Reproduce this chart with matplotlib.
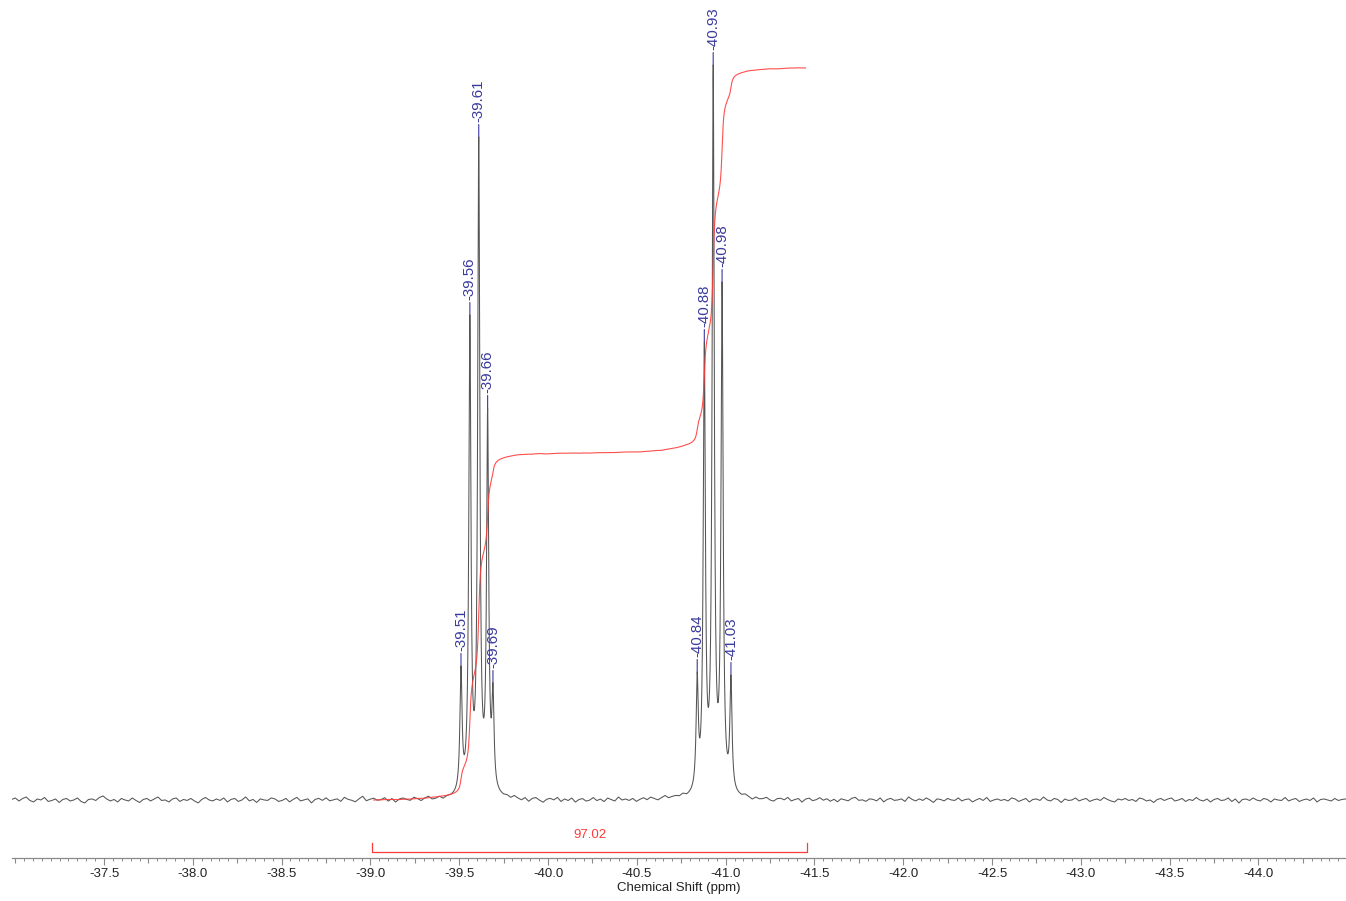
import numpy as np
import matplotlib
matplotlib.use("Agg")
import matplotlib.pyplot as plt
from matplotlib.ticker import FixedLocator, MultipleLocator, FormatStrFormatter

plt.rcParams['font.family'] = ['Liberation Sans', 'DejaVu Sans']
plt.rcParams['axes.unicode_minus'] = False

# ---- data -------------------------------------------------------------
peak_shifts = [-39.51, -39.56, -39.61, -39.66, -39.69,
               -40.84, -40.88, -40.93, -40.98, -41.03]
peak_heights = [134, 485, 663, 392, 117,
                128, 458, 735, 518, 125]
peak_labels = ["-39.51", "-39.56", "-39.61", "-39.66", "-39.69",
               "-40.84", "-40.88", "-40.93", "-40.98", "-41.03"]

integral_start = -39.01
integral_end = -41.46
integral_value = "97.02"

axis_title = "Chemical Shift (ppm)"
major_ticks = [-37.5, -38.0, -38.5, -39.0, -39.5, -40.0, -40.5,
               -41.0, -41.5, -42.0, -42.5, -43.0, -43.5, -44.0]

# baseline noise, sampled away from the two multiplets
noise_left = [0.5, 2.0, -1.0, 1.5, 3.0, -0.5, -2.0, 1.0, 0.0, 2.5,
              -1.5, -0.5, 1.0, -2.5, 0.5, 1.5, -1.0, 0.0, 2.0, -1.5,
              -3.0, 0.5, 1.0, -0.5, 2.5, 4.0, 1.0, -1.0, 0.5, -2.0,
              1.5, 0.0, -1.0, 2.0, -0.5, -2.5, 0.5, 1.5, -1.0, 1.0,
              3.0, -0.5, 0.0, -2.0, 1.0, 2.0, -1.5, 0.5, -0.5, 1.5,
              -1.0, -3.0, 0.5, 2.5, 0.0, -1.0, 1.0, -0.5, 2.0, -2.0,
              0.5, 1.5, -1.5, 0.0, 3.0, -1.0, 0.5, -2.5, 1.0, 0.0,
              -0.5, 2.0, 1.0, -1.5, -0.5, 1.5, -2.0, 0.5, 2.5, -1.0,
              0.0, 1.0, -3.0, 0.5, 1.5, -0.5, 2.0, -1.0, 0.0, 1.0,
              -1.5, 2.5, 0.5, -0.5, -2.0, 1.0, 3.5, -1.0, 0.5, 1.5,
              -0.5, 0.0, 2.0, -1.5, 1.0, -2.5, 0.5, 1.5, 0.0, -1.0,
              2.0, 0.5, -1.5, 1.0, 2.5, -0.5, 0.0, 1.5, -1.0, 0.5]
noise_mid = [1.0, -0.5, 2.0, 0.0, -1.5, 1.0, -2.5, 0.5, 1.5, -1.0,
             -3.0, 0.0, 1.0, -0.5, 2.0, -2.0, 0.5, -1.0, 1.5, -2.5,
             0.0, 1.0, -1.5, -0.5, 2.0, -1.0, 0.5, -2.0, 1.5, 0.0,
             -1.5, 2.5, -0.5, 0.5, -1.0, 1.0, -2.0, 0.0, 1.5, -0.5,
             2.0, 0.5, -1.0, 1.0, 3.0, 0.5, 1.5, 2.0, 1.0, 2.5]
noise_right = [2.0, 0.5, -1.5, 1.0, -0.5, 0.0, 1.5, -1.0, -2.0, 0.5,
               1.0, -0.5, 2.0, -1.5, 0.0, 1.0, -2.5, 0.5, 1.5, -1.0,
               0.0, 2.0, -0.5, 1.0, -1.5, 0.5, -2.0, 1.0, 0.0, -1.0,
               1.5, 2.5, -0.5, 0.0, -1.5, 1.0, 0.5, -1.0, 2.0, -2.0,
               0.5, 1.5, -0.5, 0.0, 1.0, -1.5, 3.0, 0.5, -1.0, 1.0,
               -0.5, 2.0, 0.0, -2.5, 1.0, 0.5, -1.0, 1.5, 0.0, -0.5,
               2.0, -1.0, 0.5, 1.0, -2.0, 0.0, 1.5, -0.5, 2.5, -1.5,
               0.0, 1.0, -0.5, 0.5, -1.0, 2.0, 1.0, -1.5, 0.0, 1.5,
               -2.0, 0.5, 1.0, -0.5, 3.0, 0.0, -1.0, 1.5, 0.5, -2.5,
               1.0, -0.5, 0.0, 2.0, -1.0, 0.5, 1.5, -1.5, 0.0, 1.0,
               -0.5, 2.5, 0.5, -1.0, -2.0, 1.0, 0.0, 1.5, -0.5, 0.5,
               -1.5, 2.0, 1.0, -1.0, 0.0, -2.5, 0.5, 1.5, -0.5, 1.0,
               2.0, -1.0, 0.0, 1.5, -1.5, 0.5, -0.5, 2.5, 0.0, -1.0,
               1.0, -2.0, 0.5, 1.5, -0.5, 0.0, 2.0, -1.5, 1.0, -3.0,
               0.5, 1.0, -0.5, 2.0, 0.0, -1.0, 1.5, 0.5, -2.0, 1.0,
               0.0, -0.5, 2.5, -1.0, 0.5, 1.5, -1.5, 0.0, 1.0, -0.5,
               2.0, -2.0, 0.5, 1.0, 0.0, -1.0, 1.5, -0.5, 0.5, 1.0]

# ---- styling constants ------------------------------------------------
LINE_HWHM = 0.0072          # Lorentzian half width (ppm)
INTEGRAL_HEIGHT = 732       # drawn height of the integral trace
SPEC_COLOR = "#555555"
LABEL_BLUE = "#3a3a9e"
INT_RED = "#ff3b3b"
AXIS_GREY = "#8a8a8a"
X_LIMITS = (-36.982, -44.493)
Y_LIMITS = (-58, 800)


def lorentz(d):
    return 1.0 / (1.0 + (d / LINE_HWHM) ** 2)


# amplitudes such that the summed line shape passes through each peak height
pos = np.array(peak_shifts)
hts = np.array(peak_heights, dtype=float)
amps = np.linalg.solve(lorentz(pos[:, None] - pos[None, :]), hts)

# sampling grid: coarse on the baseline, fine across the multiplets
x_nl = np.linspace(-36.98, -39.43, len(noise_left))
x_f1 = np.arange(-39.45, -39.7501, -0.0005)
x_nm = np.linspace(-39.77, -40.76, len(noise_mid))
x_f2 = np.arange(-40.78, -41.0901, -0.0005)
x_nr = np.linspace(-41.11, -44.49, len(noise_right))

x = np.concatenate([x_nl, x_f1, x_nm, x_f2, x_nr])
noise = np.concatenate([noise_left, np.zeros(len(x_f1)), noise_mid,
                        np.zeros(len(x_f2)), noise_right])
y = (amps[None, :] * lorentz(x[:, None] - pos[None, :])).sum(axis=1) + noise

# running integral over the integration window
m = (x <= integral_start) & (x >= integral_end)
xi, yi = x[m], y[m]
cum = np.concatenate([[0.0], np.cumsum(0.5 * (yi[1:] + yi[:-1]) * np.abs(np.diff(xi)))])
cum = cum / cum[-1] * INTEGRAL_HEIGHT

# ---- figure -----------------------------------------------------------
fig = plt.figure(figsize=(13.46, 9.01), dpi=100)
ax = fig.add_axes([12 / 1346, 43 / 901, 1334 / 1346, 858 / 901])
ax.set_xlim(*X_LIMITS)
ax.set_ylim(*Y_LIMITS)

ax.plot(x, y, color=SPEC_COLOR, lw=0.75)
ax.plot(xi, cum, color=INT_RED, lw=0.8, alpha=0.9)

# peak labels
for px, ph, lab in zip(peak_shifts, peak_heights, peak_labels):
    ax.annotate(lab, xy=(px, ph), xytext=(0, 11), textcoords="offset points",
                rotation=90, ha="center", va="bottom", fontsize=10.8,
                color=LABEL_BLUE,
                arrowprops=dict(arrowstyle="-", color=LABEL_BLUE, lw=0.8,
                                shrinkA=0, shrinkB=0, relpos=(0.5, 0.0)))

# integration bracket and value
ax.plot([integral_start, integral_start, integral_end, integral_end],
        [-43, -52, -52, -43], color=INT_RED, lw=0.9, clip_on=False)
ax.text((integral_start + integral_end) / 2, -35, integral_value,
        ha="center", va="center", fontsize=9.5, color=INT_RED)

# axes decoration
for side in ("top", "left", "right"):
    ax.spines[side].set_visible(False)
ax.spines["bottom"].set_color(AXIS_GREY)
ax.spines["bottom"].set_linewidth(0.9)
ax.set_yticks([])

ax.xaxis.set_major_locator(FixedLocator(major_ticks))
ax.xaxis.set_major_formatter(FormatStrFormatter("%.1f"))
ax.xaxis.set_minor_locator(MultipleLocator(0.05))
ax.tick_params(axis="x", which="major", length=5, width=0.8, color=AXIS_GREY,
               labelsize=9.5, labelcolor="#222222", pad=2)
ax.tick_params(axis="x", which="minor", length=2.2, width=0.7, color=AXIS_GREY)

mid_ticks = [-37.0] + [t - 0.25 for t in major_ticks]
sec = ax.secondary_xaxis("bottom")
sec.set_xticks(mid_ticks)
sec.set_xticklabels([])
sec.tick_params(axis="x", length=3.6, width=0.8, color=AXIS_GREY)
sec.spines["bottom"].set_visible(False)

ax.set_xlabel(axis_title, fontsize=9.5, color="#222222", labelpad=2)

fig.savefig("out.png", dpi=100, facecolor="white")
